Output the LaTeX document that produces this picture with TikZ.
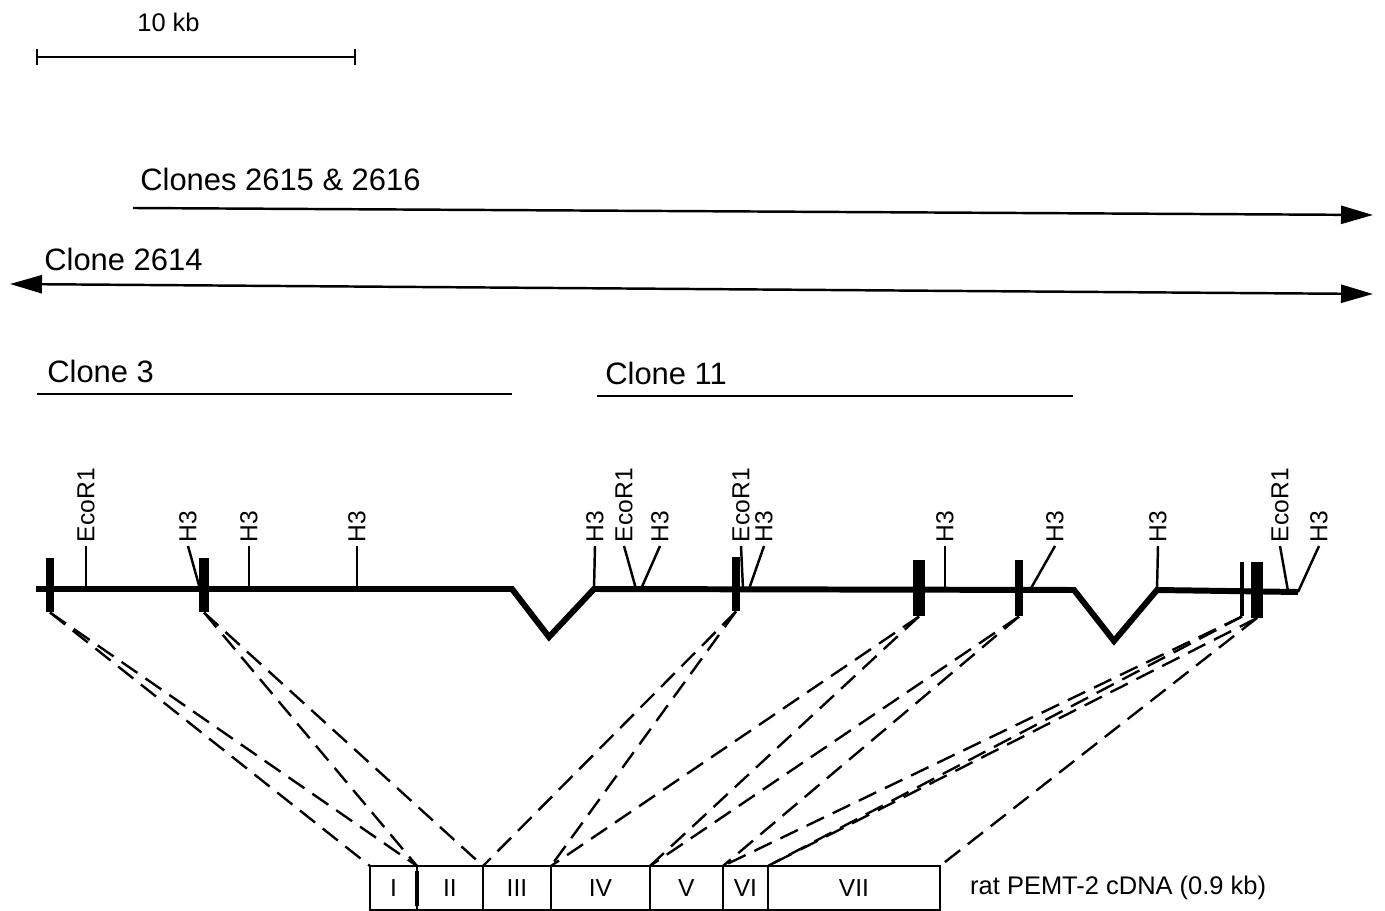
\documentclass[tikz,border=0pt]{standalone}
\usepackage{fontspec}
\setmainfont{Liberation Sans}
\usetikzlibrary{arrows.meta, positioning}

\tikzstyle{clonetext} = [anchor=base west, inner sep=0pt,
font=\fontsize{17.6}{20}\selectfont]
\tikzstyle{smalltext} = [anchor=base west, inner sep=0pt,
font=\fontsize{14.5}{17}\selectfont]
\tikzstyle{sitetext} = [rotate=90, anchor=west, inner sep=2pt,
font=\fontsize{14}{16}\selectfont]
\tikzstyle{genome} = [line width=3.4pt, line join=miter]
\tikzstyle{site} = [line width=1.4pt]
\tikzstyle{exon} = [rectangle, fill=black, inner sep=0pt, outer sep=0pt,
minimum width=0.16cm, minimum height=1.1cm]
\tikzstyle{clone} = [line width=1.4pt]
\tikzstyle{clonearrow} = [clone, -{Triangle[length=0.64cm, width=0.36cm]}]
\tikzstyle{clonearrows} = [clone, {Triangle[length=0.64cm, width=0.36cm]}-{Triangle[length=0.64cm, width=0.36cm]}]
\tikzstyle{scalebar} = [line width=1.3pt, {Bar[width=0.32cm]}-{Bar[width=0.32cm]}]
\tikzstyle{cdnaseg} = [rectangle, draw, line width=1pt, inner sep=0pt,
outer sep=0pt, minimum height=0.88cm, font=\fontsize{14}{16}\selectfont]
\tikzstyle{splice} = [dash pattern=on 11pt off 5.5pt, line width=1.35pt]

\begin{document}
\begin{tikzpicture}[x=0.02cm, y=-0.02cm]
    \useasboundingbox (0,0) rectangle (1385,911);

    % scale
    \node (scalelabel) [smalltext] at (137,32) {10 kb};
    \coordinate (bar0) at (36,57);
    \coordinate (bar1) at (356,57);
    \draw[scalebar] (bar0) -- (bar1);

    % clones
    \node (lab2615) [clonetext] at (140,191) {Clones 2615 \& 2616};
    \coordinate (a2615) at (133,208);
    \coordinate (b2615) at (1373,215);
    \draw[clonearrow] (a2615) -- (b2615);

    \node (lab2614) [clonetext] at (44,271) {Clone 2614};
    \coordinate (a2614) at (10,284);
    \coordinate (b2614) at (1373,294);
    \draw[clonearrows] (a2614) -- (b2614);

    \node (lab3) [clonetext] at (47,383) {Clone 3};
    \coordinate (a3) at (37,394);
    \coordinate (b3) at (512,394);
    \draw[clone] (a3) -- (b3);

    \node (lab11) [clonetext] at (605,385) {Clone 11};
    \coordinate (a11) at (597,396);
    \coordinate (b11) at (1073,396);
    \draw[clone] (a11) -- (b11);

    % genomic map
    \coordinate (g0) at (36,589);
    \coordinate (g1) at (512,589);
    \coordinate (v1) at (549,637);
    \coordinate (g2) at (594,589);
    \coordinate (g3) at (1074,590);
    \coordinate (v2) at (1114,641);
    \coordinate (g4) at (1157,590);
    \coordinate (g5) at (1298,592);
    \draw[genome] (g0) -- (g1) -- (v1) -- (g2) -- (g3) -- (v2) -- (g4) -- (g5);

    \node (ex1) [exon, minimum width=0.15cm] at (50,585) {};
    \node (ex2) [exon, minimum width=0.19cm] at (204,585) {};
    \node (ex3) [exon, minimum width=0.15cm] at (736,584) {};
    \node (ex4) [exon, minimum width=0.25cm, minimum height=1.14cm] at (919,588) {};
    \node (ex5) [exon, minimum width=0.17cm, minimum height=1.14cm] at (1019,588) {};
    \node (ex6) [exon, minimum width=0.07cm] at (1242,589) {};
    \node (ex7) [exon, minimum width=0.23cm, minimum height=1.12cm] at (1257,590) {};

    % restriction sites
    \node (r1) [sitetext] at (86,546) {EcoR1};
    \coordinate (f1) at (86,589);
    \draw[site] (f1) -- (r1.west);
    \node (r2) [sitetext] at (188,546) {H3};
    \coordinate (f2) at (200,589);
    \draw[site] (f2) -- (r2.west);
    \node (r3) [sitetext] at (249,546) {H3};
    \coordinate (f3) at (249,589);
    \draw[site] (f3) -- (r3.west);
    \node (r4) [sitetext] at (357,546) {H3};
    \coordinate (f4) at (357,589);
    \draw[site] (f4) -- (r4.west);
    \node (r5) [sitetext] at (595,546) {H3};
    \draw[site] (g2) -- (r5.west);
    \node (r6) [sitetext] at (624,546) {EcoR1};
    \coordinate (f6) at (636,589);
    \draw[site] (f6) -- (r6.west);
    \node (r7) [sitetext] at (660,546) {H3};
    \coordinate (f7) at (641,589);
    \draw[site] (f7) -- (r7.west);
    \node (r8) [sitetext] at (741,546) {EcoR1};
    \coordinate (f8) at (743,589);
    \draw[site] (f8) -- (r8.west);
    \node (r9) [sitetext] at (764,546) {H3};
    \coordinate (f9) at (749,589);
    \draw[site] (f9) -- (r9.west);
    \node (r10) [sitetext] at (945,546) {H3};
    \coordinate (f10) at (945,589);
    \draw[site] (f10) -- (r10.west);
    \node (r11) [sitetext] at (1055,546) {H3};
    \coordinate (f11) at (1030,590);
    \draw[site] (f11) -- (r11.west);
    \node (r12) [sitetext] at (1158,546) {H3};
    \draw[site] (g4) -- (r12.west);
    \node (r13) [sitetext] at (1280,546) {EcoR1};
    \coordinate (f13) at (1288,591);
    \draw[site] (f13) -- (r13.west);
    \node (r14) [sitetext] at (1319,546) {H3};
    \draw[site] (g5) -- (r14.west);

    % cDNA
    \node (segI) [cdnaseg, minimum width=0.94cm, anchor=north west] at (370,866) {I};
    \node (segII) [cdnaseg, minimum width=1.32cm, right=0pt of segI] {II};
    \node (segIII) [cdnaseg, minimum width=1.36cm, right=0pt of segII] {III};
    \node (segIV) [cdnaseg, minimum width=1.98cm, right=0pt of segIII] {IV};
    \node (segV) [cdnaseg, minimum width=1.46cm, right=0pt of segIV] {V};
    \node (segVI) [cdnaseg, minimum width=0.9cm, right=0pt of segV] {VI};
    \node (segVII) [cdnaseg, minimum width=3.44cm, right=0pt of segVI] {VII};
    \draw[line width=1.8pt] ([yshift=-0.1cm]segI.north east) -- ([yshift=0.08cm]segI.south east);
    \node (cdnalabel) [smalltext, anchor=west, right=0.6cm of segVII] {rat PEMT-2 cDNA (0.9 kb)};

    \draw[splice] (ex1.south) -- (segI.north west);
    \draw[splice] (ex1.south) -- (segI.north east);
    \draw[splice] (ex2.south) -- (segII.north west);
    \draw[splice] (ex2.south) -- (segII.north east);
    \draw[splice] (ex3.south) -- (segIII.north west);
    \draw[splice] (ex3.south) -- (segIII.north east);
    \draw[splice] (ex4.south) -- (segIV.north west);
    \draw[splice] (ex4.south) -- (segIV.north east);
    \draw[splice] (ex5.south) -- (segV.north west);
    \draw[splice] (ex5.south) -- (segV.north east);
    \draw[splice] (ex6.south) -- (segVI.north west);
    \draw[splice] (ex6.south) -- (segVI.north east);
    \draw[splice] (ex7.south) -- (segVII.north west);
    \draw[splice] (ex7.south) -- (segVII.north east);
\end{tikzpicture}
\end{document}
